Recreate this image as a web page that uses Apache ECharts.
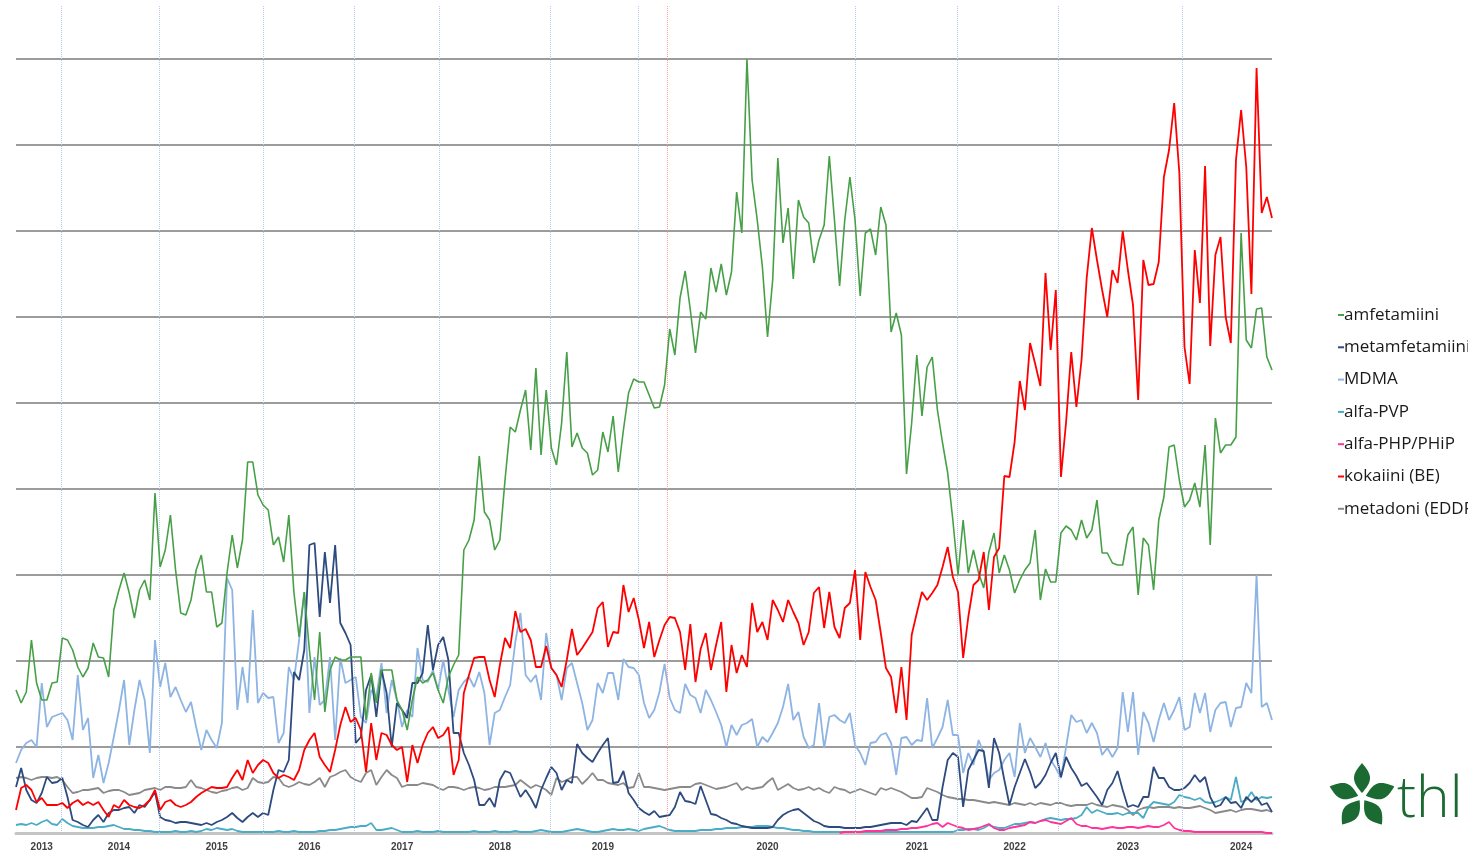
<!DOCTYPE html>
<html><head><meta charset="utf-8">
<script src="https://cdn.jsdelivr.net/npm/echarts@6/dist/echarts.min.js"></script>
<style>html,body{margin:0;padding:0;background:#fff;}#c{width:1468px;height:855px;}</style>
</head><body><div id="c"></div>
<script>
// ---- categories / tick labels ----
const seriesNames = ['amfetamiini','metamfetamiini','MDMA','alfa-PVP','alfa-PHP/PHiP','kokaiini (BE)','metadoni (EDDP)'];
const yearLabels = ['2013','2014','2015','2016','2017','2018','2019','2020','2021','2022','2023','2024'];
const yearLabelIndex = [5,20,39,57,75,94,114,146,175,194,216,238];
const yearBoundaryIndex = [8.7,27.8,48,65.7,82.2,103.7,120.8,163,182.8,202.4,226.5];
const redMarkerIndex = 126.5;
const sampleCount = 245;

// ---- series values (sample index 0..244) ----
const amfetamiini = [143,130,141,193,150,133,133,150,151,195,
193,183,166,156,165,190,176,175,156,223,
243,260,240,215,243,253,233,340,266,283,
318,263,220,218,233,263,278,241,241,206,
210,260,298,265,293,371,371,338,328,323,
288,296,271,318,240,196,241,183,133,201,
121,163,176,173,173,176,176,176,113,160,
130,163,163,163,133,123,103,133,156,150,
153,160,143,130,156,168,178,283,293,313,
377,321,313,283,293,353,406,401,423,443,
383,465,378,443,385,368,410,481,386,400,
385,380,358,363,401,381,417,361,403,440,
454,451,451,438,425,426,448,504,478,535,
562,523,480,521,514,565,541,569,538,561,
641,600,774,653,613,566,496,553,675,590,
625,554,633,616,610,570,593,608,677,613,
547,613,656,613,537,600,604,578,626,608,
501,520,498,359,410,478,417,466,476,423,
390,360,313,258,313,260,283,260,245,281,
300,260,278,263,240,253,263,270,303,233,
264,251,251,300,307,303,293,313,295,303,
333,280,280,270,268,268,298,306,238,295,
288,243,313,336,386,388,353,326,333,350,
326,388,288,415,380,388,388,396,600,493,
485,524,525,476,463];

const metamfetamiini = [46,65,43,33,30,40,56,50,51,55,
36,13,11,8,6,13,18,11,20,23,
23,25,26,20,28,26,33,41,16,13,
12,10,11,11,10,9,8,10,8,11,
13,16,20,15,11,16,20,16,20,18,
43,63,61,73,161,153,183,288,290,216,
281,230,288,210,200,188,90,96,143,158,
116,163,140,86,130,123,115,150,150,160,
208,163,188,196,173,100,100,80,68,53,
28,28,35,26,53,62,60,48,36,43,
35,25,43,55,66,60,43,53,50,89,
80,75,71,80,88,95,50,51,62,40,
33,25,21,18,22,16,17,18,26,41,
32,31,29,47,33,19,18,15,13,10,
9,7,6,5,5,5,5,6,13,18,
21,23,24,20,16,12,10,7,6,6,
6,5,5,5,5,6,6,7,8,9,
10,10,10,8,12,11,18,25,13,13,
46,73,80,76,26,63,73,83,82,45,
95,80,53,28,46,60,74,61,45,50,
58,70,80,56,76,65,57,47,50,43,
36,28,43,50,62,43,26,28,26,36,
36,66,55,55,46,43,43,45,50,58,
51,56,36,26,28,36,30,31,25,36,
31,36,28,30,21];

const mdma = [70,83,90,93,86,150,106,116,118,120,
113,93,158,103,115,55,78,50,70,96,
123,153,88,123,153,133,80,193,146,170,
136,146,133,121,131,106,83,103,93,85,
110,255,243,123,166,130,223,130,140,135,
136,90,100,166,153,193,241,120,176,128,
133,176,93,175,150,153,156,116,110,143,
136,170,120,153,133,106,123,116,185,153,
151,163,143,173,143,116,143,151,156,146,
161,140,88,120,123,136,148,191,220,158,
151,158,133,200,165,158,133,165,170,150,
130,103,113,150,140,160,160,133,174,166,
165,158,130,115,123,141,169,135,123,120,
149,138,135,120,143,133,121,108,86,108,
98,108,110,114,86,96,91,100,110,126,
149,113,121,96,85,88,130,85,116,118,
113,110,120,88,80,68,90,91,98,100,
90,58,95,96,88,93,92,135,85,95,
106,133,98,98,60,80,68,93,80,53,
60,63,73,80,56,110,80,95,86,76,
90,73,65,55,86,118,111,113,100,110,
100,78,85,76,85,141,101,141,78,121,
110,91,113,130,113,123,136,103,106,140,
120,140,101,123,130,131,106,125,126,150,
140,258,126,130,113];

const alfaPVP = [8,9,8,10,8,11,13,9,8,14,
10,7,6,5,5,5,6,6,7,8,
6,4,4,3,3,2,2,1,1,1,
1,2,1,1,2,1,2,4,3,5,
4,3,4,2,1,1,1,1,1,1,
1,2,1,1,2,1,1,1,1,2,
2,3,3,4,5,6,6,7,7,10,
3,3,4,5,3,1,1,1,2,1,
1,1,2,1,1,1,1,1,1,2,
1,1,1,2,1,1,1,2,1,1,
1,2,3,2,1,1,1,2,3,4,
3,2,1,1,2,3,4,3,3,4,
3,2,4,5,6,7,5,3,2,2,
2,2,2,3,3,3,4,4,5,5,
5,6,6,6,7,7,7,6,5,5,
4,3,3,2,2,1,1,1,1,1,
1,1,1,1,1,1,1,1,1,1,
1,1,1,1,1,1,1,1,1,1,
1,1,1,3,3,4,4,3,5,8,
6,5,5,7,9,9,10,11,10,12,
14,15,14,13,14,14,15,18,26,20,
23,21,19,19,20,18,20,20,20,15,
26,31,30,29,28,31,38,36,35,33,
35,31,30,31,33,36,33,56,31,33,
41,33,36,35,36];

const alfaPHPStart = 160;
const alfaPHP = [0,1,1,1,1,2,2,2,2,3,
3,3,4,4,5,5,6,7,9,10,
6,10,8,6,5,3,4,5,7,9,
5,3,3,5,6,7,8,11,10,12,
13,11,10,9,12,15,9,7,7,5,
5,4,5,6,5,5,6,6,5,6,
7,6,6,8,11,5,3,2,2,1,
1,1,1,1,1,1,1,1,1,1,
1,1,1,0,0];

const kokaiini = [23,45,48,43,31,35,28,28,28,30,
25,30,33,28,31,28,31,23,16,28,
25,33,28,26,25,28,33,43,23,31,
33,28,26,28,31,36,40,43,46,45,
45,46,55,63,53,73,60,68,73,70,
60,55,58,56,53,63,83,93,100,76,
68,61,83,108,126,111,115,103,61,110,
73,100,98,88,83,86,51,88,70,88,
100,106,95,98,106,58,73,140,158,175,
176,176,153,136,168,195,185,222,201,204,
193,166,166,187,165,158,146,173,204,178,
185,193,201,225,231,186,201,200,248,221,
235,213,185,211,176,193,208,216,215,201,
163,209,151,184,200,163,188,211,141,188,
160,178,166,230,201,211,193,233,223,211,
233,221,210,188,201,240,246,205,241,206,
195,225,230,263,193,261,246,233,200,165,
156,120,166,113,198,220,241,233,240,248,
266,286,256,241,175,216,248,253,281,223,
276,285,357,356,391,452,423,490,469,447,
560,483,543,356,411,481,426,473,555,605,
573,543,516,563,550,602,563,528,433,573,
548,549,571,656,683,730,660,486,449,583,
530,667,487,578,596,516,490,673,723,666,
539,765,620,636,615];

const metadoni = [55,56,55,53,55,56,56,55,56,53,
46,40,41,43,43,44,45,40,42,43,
43,41,38,39,40,43,44,45,43,46,
46,45,45,46,53,46,45,43,41,40,
42,43,45,46,43,45,55,51,50,51,
56,55,48,46,48,51,49,48,51,55,
46,56,58,61,63,56,53,51,60,63,
48,56,63,58,55,46,48,48,48,50,
49,48,45,43,46,46,45,43,45,46,
45,43,44,46,46,46,47,48,53,49,
45,48,46,43,38,55,51,53,56,56,
49,54,60,53,53,50,49,48,50,45,
46,60,46,46,45,44,43,44,45,46,
46,46,49,50,48,46,44,45,46,48,
50,43,46,44,45,46,51,55,43,46,
49,45,43,44,46,43,45,42,40,46,
44,43,40,42,44,42,40,38,45,43,
45,43,41,38,35,35,36,45,43,41,
38,36,35,34,34,33,33,32,31,30,
31,30,29,28,30,29,28,30,28,30,
29,28,30,30,28,27,28,28,28,30,
28,27,26,28,27,26,23,18,23,25,
26,25,26,26,26,25,26,25,25,26,
27,25,23,20,21,22,23,21,23,24,
24,23,22,23,21];

const colors = {
  'amfetamiini':'#47a047','metamfetamiini':'#2d4b7e','MDMA':'#8db4e2','alfa-PVP':'#4bacc6',
  'alfa-PHP/PHiP':'#ff3399','kokaiini (BE)':'#ff0000','metadoni (EDDP)':'#8a8a8a'
};

function pairs(arr, start){ return arr.map(function(v,k){ return [start + k, v]; }); }

function lineSeries(name, arr, start, width, z, extra){
  const s = {
    name: name, type: 'line', data: pairs(arr, start), showSymbol: false, symbol: 'none',
    lineStyle: {color: colors[name], width: width}, itemStyle: {color: colors[name]},
    z: z, silent: true, animation: false
  };
  return Object.assign(s, extra || {});
}

const vLines = yearBoundaryIndex.map(function(x){ return {xAxis: x}; });
vLines.push({xAxis: redMarkerIndex, lineStyle: {color: '#ff9a9a', type: 'dotted', width: 1}});

// logo petals (leaf outlines as polygons)
const petals = [];
const cx = 1362, cy = 797;
[-90,-18,54,126,198].forEach(function(a){
  const r = a * Math.PI / 180, c = Math.cos(r), s = Math.sin(r);
  const pts = [];
  const n = 16, r0 = 4, r1 = 34, hw = 8;
  for (let k = 0; k <= n; k++) { const t = k / n; const u = r0 + (r1 - r0) * t; const w = hw * Math.sin(Math.PI * t);
    pts.push([cx + u * c - w * s, cy + u * s + w * c]); }
  for (let k = n - 1; k >= 1; k--) { const t = k / n; const u = r0 + (r1 - r0) * t; const w = hw * Math.sin(Math.PI * t);
    pts.push([cx + u * c + w * s, cy + u * s - w * c]); }
  petals.push({type: 'polygon', silent: true, shape: {points: pts}, style: {fill: '#1a6a31'}});
});

const chart = echarts.init(document.getElementById('c'), null, {renderer:'canvas'});
chart.setOption({
  animation: false,
  backgroundColor: '#ffffff',
  grid: {left: 16, right: 196, top: 5, bottom: 22, containLabel: false},
  xAxis: {
    type: 'value', min: 0, max: sampleCount - 1, interval: 1,
    axisLine: {show: true, onZero: true, lineStyle: {color: '#c4c4c4', width: 3}},
    axisTick: {show: false}, splitLine: {show: false},
    axisLabel: {
      margin: 9, fontSize: 10, fontWeight: 'bold', color: '#404040', fontFamily: 'Liberation Sans',
      formatter: function(v){ const k = yearLabelIndex.indexOf(v); return k >= 0 ? yearLabels[k] : ''; }
    }
  },
  yAxis: {
    type: 'value', min: 0, max: 828, interval: 86,
    axisLine: {show: false}, axisTick: {show: false}, axisLabel: {show: false},
    splitLine: {show: true, showMinLine: false, showMaxLine: false, lineStyle: {color: '#9c9c9c', width: 2}}
  },
  legend: {
    data: seriesNames, orient: 'vertical', left: 1333, top: 300, icon: 'rect',
    itemWidth: 6, itemHeight: 2, itemGap: 12.3, selectedMode: false,
    textStyle: {fontSize: 17, fontFamily: 'Open Sans', color: '#1a1a1a', lineHeight: 20, padding: [0,0,0,-5]}
  },
  series: [
    lineSeries('MDMA', mdma, 0, 1.8, 2, {markLine: {silent: true, symbol: ['none','none'], label: {show: false},
      lineStyle: {color: '#b7c9e8', type: 'dotted', width: 1}, data: vLines, animation: false}}),
    lineSeries('metadoni (EDDP)', metadoni, 0, 1.8, 3),
    lineSeries('alfa-PVP', alfaPVP, 0, 1.8, 3),
    lineSeries('alfa-PHP/PHiP', alfaPHP, alfaPHPStart, 1.8, 3),
    lineSeries('metamfetamiini', metamfetamiini, 0, 1.8, 4),
    lineSeries('amfetamiini', amfetamiini, 0, 1.6, 5),
    lineSeries('kokaiini (BE)', kokaiini, 0, 1.8, 6)
  ],
  graphic: petals.concat([
    {type:'text', x: 1397, y: 801, silent: true,
     style: {text: 'thl', fontSize: 57, fontWeight: 300, fontFamily: 'Open Sans', fill: '#1a6a31', verticalAlign: 'middle', textAlign: 'left'}}
  ])
});
</script>
</body></html>
